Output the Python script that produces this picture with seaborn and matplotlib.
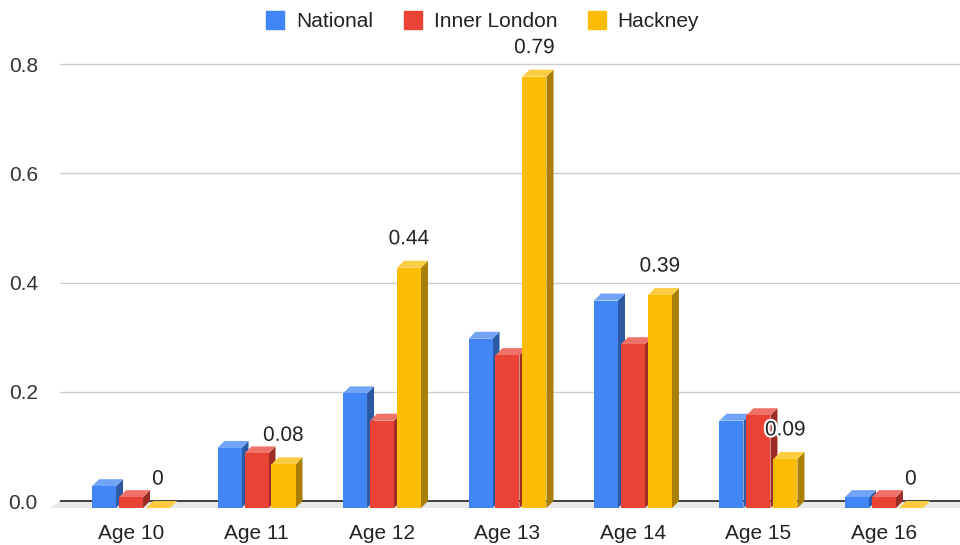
import pandas as pd
import matplotlib.pyplot as plt
import seaborn as sns
import numpy as np
from matplotlib.patches import Polygon
from matplotlib.lines import Line2D
import matplotlib.colors as mcolors
import matplotlib.patheffects as pe

ages = ['Age 10', 'Age 11', 'Age 12', 'Age 13', 'Age 14', 'Age 15', 'Age 16']
national = [0.04, 0.11, 0.21, 0.31, 0.38, 0.16, 0.02]
inner_london = [0.02, 0.10, 0.16, 0.28, 0.30, 0.17, 0.02]
hackney = [0.00, 0.08, 0.44, 0.79, 0.39, 0.09, 0.00]
series = ['National', 'Inner London', 'Hackney']
colors = ['#4285F4', '#EA4335', '#FBBC04']

df = pd.DataFrame({
    'age': ages * 3,
    'value': national + inner_london + hackney,
    'series': [s for s in series for _ in ages],
})

sns.set_style('white')
plt.rcParams['font.family'] = ['Liberation Sans', 'DejaVu Sans']

fig = plt.figure(figsize=(9.6, 5.45), dpi=100)
ax = fig.add_axes([60 / 960, 0.0556, 900 / 960, 0.8567])

sns.barplot(data=df, x='age', y='value', hue='series', hue_order=series,
            palette=colors, width=0.645, gap=0.11, saturation=1,
            legend=False, ax=ax)

ax.set_xlim(-0.566, 6.606)
ax.set_ylim(-0.025, 0.83)

# 3d offsets: ~7 px right and up
dx = 7 / 125.5
d = 7 / 546

def darker(c, f=0.67):
    r, g, b = mcolors.to_rgb(c)
    return (r * f, g * f, b * f)

def lighter(c, f=0.25):
    r, g, b = mcolors.to_rgb(c)
    return (r + (1 - r) * f, g + (1 - g) * f, b + (1 - b) * f)

for container, col in zip(ax.containers, colors):
    for bar in container:
        x = bar.get_x()
        w = bar.get_width()
        h = bar.get_height()
        z = 3 + x
        bar.set_y(-d)
        bar.set_zorder(z + 0.02)
        bar.set_edgecolor('none')
        side = Polygon([(x + w, -d), (x + w + dx, 0), (x + w + dx, h), (x + w, h - d)],
                       closed=True, facecolor=darker(col), edgecolor='none', zorder=z)
        top = Polygon([(x, h - d), (x + w, h - d), (x + w + dx, h), (x + dx, h)],
                      closed=True, facecolor=lighter(col), edgecolor='none', zorder=z + 0.01)
        ax.add_patch(side)
        ax.add_patch(top)

# data labels on Hackney
for bar, v in zip(ax.containers[2], hackney):
    cx = bar.get_x() + bar.get_width() / 2
    ax.annotate(f'{v:g}', (cx, v), xytext=(0, 9), textcoords='offset points',
                ha='center', va='bottom', fontsize=15, color='#222222', zorder=20,
                path_effects=[pe.withStroke(linewidth=3, foreground='white')])

# floor and gridlines
x0, x1 = ax.get_xlim()
floor = Polygon([(x0, 0), (x1, 0), (x1, -d), (x0 - 1.4 * dx, -d)], closed=True,
                facecolor='#e8e8e8', edgecolor='none', zorder=1, clip_on=False)
ax.add_patch(floor)
for yv in [0.2, 0.4, 0.6, 0.8]:
    ax.axhline(yv, color='#cccccc', linewidth=1, zorder=0.5)
ax.axhline(0, color='#333333', linewidth=1.3, zorder=2)

ax.set_yticks([0, 0.2, 0.4, 0.6, 0.8])
ax.set_yticklabels(['0.0', '0.2', '0.4', '0.6', '0.8'])
ax.tick_params(axis='y', length=0, pad=16, labelsize=15, labelcolor='#333333')
ax.tick_params(axis='x', length=0, pad=7, labelsize=15, labelcolor='#222222')
ax.set_xlabel('')
ax.set_ylabel('')
for s in ax.spines.values():
    s.set_visible(False)

handles = [Line2D([], [], marker='s', linestyle='none', markersize=13,
                  markerfacecolor=c, markeredgecolor=c, label=s)
           for s, c in zip(series, colors)]
fig.legend(handles=handles, loc='upper center', bbox_to_anchor=(0.5, 1.012), ncol=3,
           frameon=False, fontsize=15, handletextpad=0.3, columnspacing=1.2,
           handlelength=1.4, labelcolor='#222222')

fig.savefig('out.png', dpi=100, facecolor='white')
